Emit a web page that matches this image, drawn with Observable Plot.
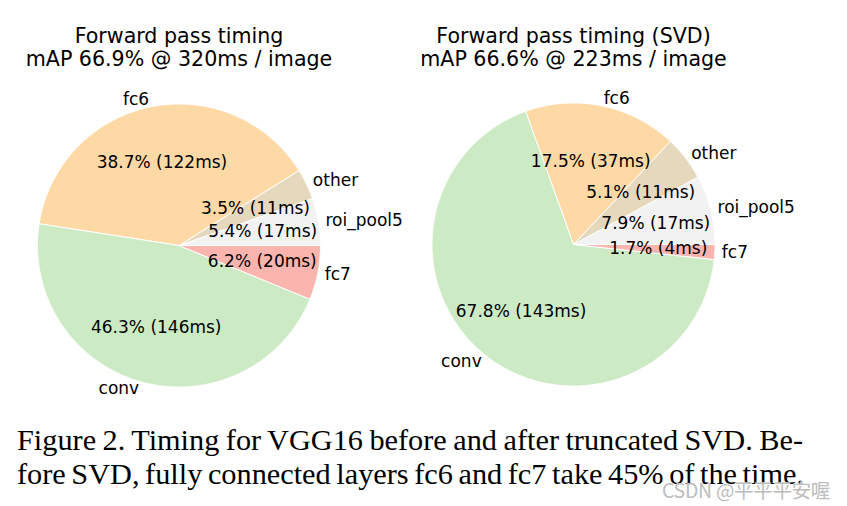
<!DOCTYPE html>
<html>
<head>
<meta charset="utf-8">
<script src="https://cdn.jsdelivr.net/npm/d3@7"></script>
<script src="https://cdn.jsdelivr.net/npm/@observablehq/plot@0.6"></script>
<style>
  html, body { margin: 0; padding: 0; background: #fff; }
  #wrap { position: relative; width: 847px; height: 506px; overflow: hidden; background: #fff; }
  #left, #right { position: absolute; top: 0; }
  #left { left: 0; }
  #right { left: 420px; }
  #wrap svg { overflow: visible; }
  .cap { position: absolute; left: 17px; width: 786px; font-family: "Liberation Serif", "Times New Roman", serif;
         font-size: 30.3px; line-height: 34px; color: #000; text-align: justify; text-align-last: justify;
         word-spacing: -2px; white-space: nowrap; }
  #wm { position: absolute; left: 662px; top: 475px; font-family: "Noto Sans CJK SC", "Noto Sans", sans-serif;
        font-size: 19.5px; color: #bdbdbd; letter-spacing: -0.3px; text-shadow: 0 0 1px #fff; }
</style>
</head>
<body>
<div id="wrap">
  <div id="left"></div>
  <div id="right"></div>
  <div class="cap" id="cap1"></div>
  <div class="cap" id="cap2"></div>
  <div id="wm"></div>
</div>
<script>
// ---- data ----
const labels = ["roi_pool5", "other", "fc6", "conv", "fc7"];   // counter-clockwise from 3 o'clock
const colors = ["#f2f2f2", "#e5d8bd", "#fed9a6", "#ccebc5", "#fbb4ae"];
const pctBefore = [5.4, 3.5, 38.7, 46.3, 6.2];
const msBefore = [17, 11, 122, 146, 20];
const pctAfter = [7.9, 5.1, 17.5, 67.8, 1.7];
const msAfter = [17, 11, 37, 143, 4];
const titleBefore = "Forward pass timing\nmAP 66.9% @ 320ms / image";
const titleAfter = "Forward pass timing (SVD)\nmAP 66.6% @ 223ms / image";
const captionLines = [
  "Figure 2. Timing for VGG16 before and after truncated SVD. Be-",
  "fore SVD, fully connected layers fc6 and fc7 take 45% of the time."
];
const watermark = "CSDN @平平平安喔";

// ---- build pie geometry from the values ----
function pieData(pcts, ms) {
  const total = d3.sum(pcts);
  let acc = 0;
  const pts = [], slices = [];
  pcts.forEach((p, i) => {
    const a0 = acc / total * 2 * Math.PI;
    acc += p;
    const a1 = acc / total * 2 * Math.PI;
    const n = Math.max(2, Math.ceil((a1 - a0) / (Math.PI / 360)));
    pts.push({label: labels[i], color: colors[i], x: 0, y: 0});
    for (let k = 0; k <= n; k++) {
      const a = a0 + (a1 - a0) * k / n;
      pts.push({label: labels[i], color: colors[i], x: Math.cos(a), y: Math.sin(a)});
    }
    pts.push({label: labels[i], color: colors[i], x: 0, y: 0});
    const am = (a0 + a1) / 2;
    slices.push({
      label: labels[i],
      pct: `${p.toFixed(1)}% (${ms[i]}ms)`,
      lx: 1.05 * Math.cos(am), ly: 1.05 * Math.sin(am),
      px: 0.6 * Math.cos(am), py: 0.6 * Math.sin(am)
    });
  });
  return {pts, slices};
}

function pie(pcts, ms, title, width, cx, cy, r) {
  const {pts, slices} = pieData(pcts, ms);
  return Plot.plot({
    width, height: 420,
    margin: 0,
    style: {fontFamily: "DejaVu Sans", background: "transparent", overflow: "visible"},
    x: {type: "linear", domain: [-1, 1], range: [cx - r, cx + r], axis: null},
    y: {type: "linear", domain: [-1, 1], range: [cy + r, cy - r], axis: null},
    marks: [
      Plot.line(pts, {x: "x", y: "y", z: "label", fill: "color", stroke: "white", strokeWidth: 1, strokeLinejoin: "round", curve: "linear"}),
      Plot.text(slices, {x: "px", y: "py", text: "pct", fontSize: 17, fill: "#000", textAnchor: "middle", lineAnchor: "middle"}),
      Plot.text(slices.filter(d => d.lx > 0), {x: "lx", y: "ly", text: "label", fontSize: 17, fill: "#000", textAnchor: "start", lineAnchor: "middle"}),
      Plot.text(slices.filter(d => d.lx <= 0), {x: "lx", y: "ly", text: "label", fontSize: 17, fill: "#000", textAnchor: "end", lineAnchor: "middle"}),
      Plot.text([title], {x: () => 0, frameAnchor: "top", text: d => d, lineAnchor: "top", dy: 27, lineHeight: 1.08, fontSize: 20.6, fill: "#000", textAnchor: "middle"})
    ]
  });
}

document.getElementById("left").appendChild(pie(pctBefore, msBefore, titleBefore, 420, 178.5, 245, 141.5));
document.getElementById("right").appendChild(pie(pctAfter, msAfter, titleAfter, 427, 153, 244, 141.5));

const c1 = document.getElementById("cap1"), c2 = document.getElementById("cap2");
c1.textContent = captionLines[0];
c2.textContent = captionLines[1];
c1.style.top = "423px";
c2.style.top = "457px";
document.getElementById("wm").textContent = watermark;
</script>
</body>
</html>
